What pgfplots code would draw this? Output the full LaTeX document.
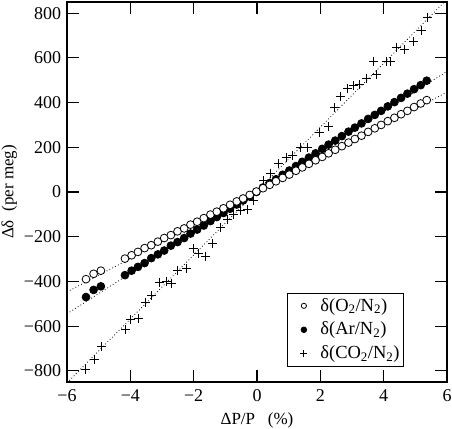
\documentclass[border=0pt]{standalone}
\usepackage{fontspec}
\setmainfont{Liberation Serif}
\usepackage{pgfplots}
\pgfplotsset{compat=1.18}
\pgfplotsset{dotleg/.style={legend image code/.code={\path (0bp,0bp) (28bp,0bp); \draw[##1] plot coordinates {(14bp,0bp)};}}}
\pgfplotstableread{
x y
-5.40 -390
-5.16 -366
-4.93 -352
-4.17 -298
-3.96 -283
-3.76 -268
-3.55 -251
-3.34 -238
-3.13 -222
-2.93 -206
-2.72 -193
-2.51 -176
-2.30 -163
-2.10 -146
-1.89 -133
-1.68 -117
-1.47 -101
-1.27 -88
-1.06 -73
-0.85 -57
-0.64 -42
-0.44 -29
-0.23 -13
-0.02 2
0.19 17
0.40 32
0.60 48
0.81 63
1.02 78
1.23 95
1.43 110
1.64 126
1.85 142
2.06 157
2.26 173
2.47 189
2.68 205
2.89 221
3.09 237
3.30 252
3.51 269
3.72 285
3.92 300
4.13 317
4.34 332
4.55 348
4.75 363
4.96 380
5.17 396
5.36 411
}\oxy
\pgfplotstableread{
x y
-5.40 -470
-5.16 -438
-4.93 -422
-4.17 -372
-3.96 -352
-3.76 -335
-3.55 -318
-3.34 -296
-3.13 -279
-2.93 -262
-2.72 -240
-2.51 -224
-2.30 -206
-2.10 -186
-1.89 -168
-1.68 -150
-1.47 -130
-1.27 -112
-1.06 -94
-0.85 -75
-0.64 -56
-0.44 -38
-0.23 -20
-0.02 0
0.19 20
0.40 40
0.60 57
0.81 77
1.02 96
1.23 116
1.43 135
1.64 154
1.85 173
2.06 193
2.26 212
2.47 230
2.68 250
2.89 270
3.09 288
3.30 307
3.51 327
3.72 345
3.92 363
4.13 383
4.34 402
4.55 421
4.75 440
4.96 460
5.17 478
5.36 498
}\arg
\pgfplotstableread{
x y
-5.40 -792
-5.14 -748
-4.91 -689
-4.14 -614
-3.98 -570
-3.74 -565
-3.51 -495
-3.32 -464
-3.08 -404
-2.85 -400
-2.69 -409
-2.51 -353
-2.22 -342
-2.02 -252
-1.85 -275
-1.62 -287
-1.41 -231
-1.15 -157
-0.94 -124
-0.73 -100
-0.52 -84
-0.31 -79
-0.12 -38
0.21 51
0.43 85
0.69 126
0.92 155
1.13 163
1.37 200
1.60 200
1.97 267
2.26 294
2.44 378
2.64 426
2.87 462
3.05 477
3.24 480
3.46 508
3.78 524
3.68 583
4.08 585
4.20 583
4.42 648
4.65 638
4.94 675
5.20 723
5.38 782
}\coo
\begin{document}
\fontsize{17bp}{20bp}\selectfont
\begin{tikzpicture}
\useasboundingbox (-67bp,-47bp) rectangle (385bp,382bp);
\begin{axis}[
  at={(0,0)}, anchor=south west,
  width=380bp, height=380bp, scale only axis,
  xmin=-6, xmax=6, ymin=-850, ymax=850,
  xtick={-6,-4,-2,0,2,4,6},
  xticklabels={−6,−4,−2,0,2,4,6},
  ytick={-800,-600,-400,-200,0,200,400,600,800},
  yticklabels={−800,−600,−400,−200,0,200,400,600,800},
  tick align=inside, tick pos=both,
  major tick length=12bp,
  axis line style={line width=1.1bp},
  every tick/.style={black, line width=1.1bp},
  tick label style={font=\fontsize{18bp}{21bp}\selectfont},
  xticklabel style={yshift=-2bp},
  label style={font=\fontsize{17bp}{20bp}\selectfont},
  xlabel={ΔP/P\ \ \ (\%)},
  ylabel={Δδ\ \ (per meg)},
  every axis y label/.style={at={(axis description cs:-0.152,0.5)}, rotate=90, anchor=center},
  every axis x label/.style={at={(axis description cs:0.5,-0.10)}, anchor=center},
  legend style={at={(0.887,0.0395)}, anchor=south east, draw=black,
    line width=1bp, font=\fontsize{18.5bp}{22bp}\selectfont, row sep=4.5bp,
    inner xsep=2bp, inner ysep=3bp},
  legend cell align=left,
]
\addlegendimage{mark=*, mark size=2.6bp, mark options={fill=white, draw=black, line width=0.8bp}, dotleg}
\addlegendimage{mark=*, mark size=2.8bp, mark options={fill=black, draw=black, line width=0.8bp}, dotleg}
\addlegendimage{mark=+, mark size=3.5bp, mark options={black, line width=0.9bp}, dotleg}
\legend{δ(O\textsubscript{2}/N\textsubscript{2}), δ(Ar/N\textsubscript{2}), δ(CO\textsubscript{2}/N\textsubscript{2})}
\addplot[forget plot, black, line width=0.8bp, dash pattern=on 0.8bp off 2.4bp] coordinates {(-6,-447) (6,447)};
\addplot[forget plot, black, line width=0.8bp, dash pattern=on 0.8bp off 2.4bp] coordinates {(-6,-545) (6,540)};
\addplot[forget plot, black, line width=0.8bp, dash pattern=on 0.8bp off 2.4bp] coordinates {(-6,-854) (6,862)};
\addplot[forget plot, only marks, mark=+, mark size=4.5bp, mark options={black, line width=1bp}] table {\coo};
\addplot[forget plot, only marks, mark=*, mark size=3.9bp, mark options={fill=black, draw=black, line width=0.8bp}] table {\arg};
\addplot[forget plot, only marks, mark=*, mark size=3.9bp, mark options={fill=white, draw=black, line width=0.8bp}] table {\oxy};
\end{axis}
\end{tikzpicture}
\end{document}
